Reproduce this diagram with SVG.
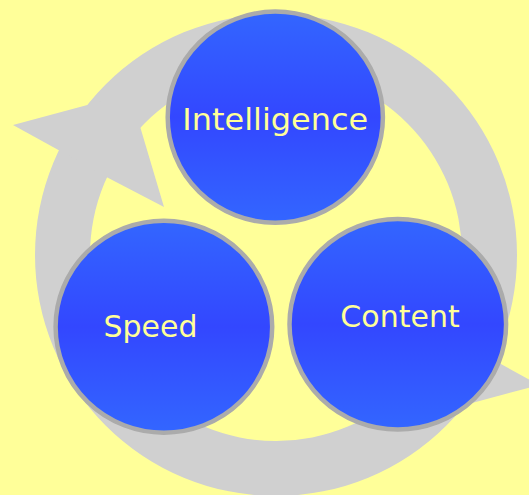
<svg xmlns="http://www.w3.org/2000/svg" width="529" height="495" viewBox="0 0 529 495">
  <style>
    .ring { fill: #D0D0D0; fill-rule: evenodd; }
    .node { fill: url(#blue); stroke: #ABABAB; stroke-width: 4.5; }
    .label { font-family: "DejaVu Sans", Verdana, sans-serif; font-size: 30px; fill: #FFFF99; text-anchor: middle; }
  </style>
  <defs>
    <linearGradient id="blue" x1="0" y1="0" x2="0" y2="1">
      <stop offset="0" stop-color="#3366FF"/>
      <stop offset="0.5" stop-color="#3347FF"/>
      <stop offset="1" stop-color="#3366FF"/>
    </linearGradient>
    <polygon id="head" class="ring" points="105,100.3 13,125 72,157.4 104,175.8 164,207 139,123"/>
  </defs>
  <rect width="529" height="495" fill="#FFFF99"/>
  <g id="connectors">
    <path class="ring" d="M35,255 A241,241 0 1 0 517,255 A241,241 0 1 0 35,255 Z M90,255 A186,186 0 1 0 462,255 A186,186 0 1 0 90,255 Z"/>
    <use href="#head"/>
    <use href="#head" transform="rotate(180 276 255)"/>
  </g>
  <g id="node-intelligence">
    <ellipse class="node" cx="275.3" cy="117.2" rx="107.6" ry="105.6"/>
    <text class="label" x="275.3" y="130" textLength="186" lengthAdjust="spacingAndGlyphs">Intelligence</text>
  </g>
  <g id="node-speed">
    <ellipse class="node" cx="163.9" cy="326.7" rx="108.3" ry="106"/>
    <text class="label" x="150.5" y="336.7">Speed</text>
  </g>
  <g id="node-content">
    <ellipse class="node" cx="397.8" cy="324.2" rx="108.3" ry="105.3"/>
    <text class="label" x="400" y="327.3">Content</text>
  </g>
</svg>
